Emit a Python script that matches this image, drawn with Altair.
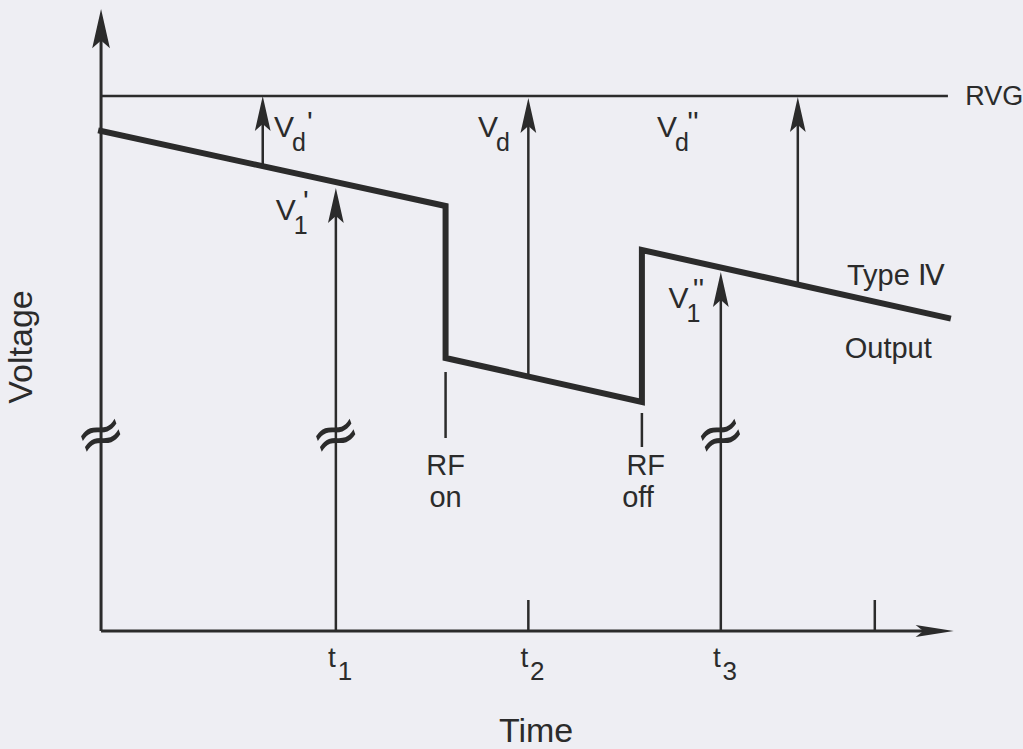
import altair as alt
import pandas as pd

INK = "#2b2b2b"
PAPER = "#eeeef3"
FONT = "Liberation Sans"

# ---- data, in time units across and voltage units up ----
T1, T2, T3 = 12.2, 22.2, 32.2
axis_ticks_t = [22.2, 40.2]          # bare ticks on the time axis
T_AXIS_END = 44.3                    # tip of the time axis arrow
V_AXIS_TOP = 62.2                    # tip of the voltage axis arrow
RVG = 53.5
RVG_END = 44.0

# Type IV output trace
out_t = [0.0, 17.9, 17.9, 28.1, 28.1, 44.0]
out_v = [50.0, 42.5, 27.3, 22.9, 38.1, 31.3]

# vertical arrows: time, foot voltage, tip voltage
arrow_t = [8.4, 12.2, 22.2, 32.2, 36.2]
arrow_from = [46.5, 0.0, 25.45, 0.0, 34.6]
arrow_to = [53.5, 44.3, 53.3, 35.9, 53.4]

# break marks on the long verticals
break_t = [0.0, 12.2, 32.2]
BREAK_V = 19.5

# RF switching markers
rf_t = [17.9, 28.1]
rf_top = [25.9, 21.8]
rf_bottom = [19.3, 18.4]
rf_words = ["RF", "on", "RF", "off"]
rf_words_t = [17.9, 17.9, 28.3, 27.9]
rf_words_v = [15.6, 12.4, 15.6, 12.4]

# voltage labels: main letter, subscript, prime marks
vlab_t = [9.5, 9.6, 20.1, 29.4, 30.0]
vlab_v = [49.4, 41.1, 49.4, 49.4, 32.3]
vlab_sub = ["d", "1", "d", "d", "1"]
vlab_prime = ["'", "'", "", "''", "''"]

# time labels
tlab_t = [T1, T2, T3]
tlab_sub = ["1", "2", "3"]
TLAB_V = -3.6

X_DOMAIN = [-5.25, 47.9]
Y_DOMAIN = [-11.8, 63.1]

xs = alt.Scale(domain=X_DOMAIN, nice=False, zero=False)
ys = alt.Scale(domain=Y_DOMAIN, nice=False, zero=False)


def X(f="x"):
    return alt.X(f"{f}:Q", scale=xs, axis=None)


def Y(f="y"):
    return alt.Y(f"{f}:Q", scale=ys, axis=None)


ARROW = "M0,0 L0.45,2 L0,1.6 L-0.45,2 Z"
NARROW = "M0,0 L0.32,2 L0,1.6 L-0.32,2 Z"

# axes
axes_df = pd.DataFrame({
    "x": [0.0, 0.0], "x2": [0.0, T_AXIS_END - 1.0],
    "y": [0.0, 0.0], "y2": [V_AXIS_TOP - 2.0, 0.0],
})
axes = alt.Chart(axes_df).mark_rule(color=INK, strokeWidth=3).encode(
    x=X(), x2="x2:Q", y=Y(), y2="y2:Q")

y_head = alt.Chart(pd.DataFrame({"x": [0.0], "y": [V_AXIS_TOP]})).mark_point(
    shape=ARROW, filled=True, color=INK, opacity=1, size=1550, strokeWidth=0
).encode(x=X(), y=Y())
x_head = alt.Chart(pd.DataFrame({"x": [T_AXIS_END], "y": [0.0]})).mark_point(
    shape=NARROW, filled=True, color=INK, opacity=1, size=1450, strokeWidth=0
).encode(x=X(), y=Y(), angle=alt.value(90))

ticks = alt.Chart(pd.DataFrame({"x": axis_ticks_t, "y": [0.0] * 2, "y2": [3.1] * 2})
                  ).mark_rule(color=INK, strokeWidth=2.5).encode(x=X(), y=Y(), y2="y2:Q")

# reference level
rvg = alt.Chart(pd.DataFrame({"x": [0.0], "x2": [RVG_END], "y": [RVG]})).mark_rule(
    color=INK, strokeWidth=2.5).encode(x=X(), x2="x2:Q", y=Y())

# output trace
out_df = pd.DataFrame({"x": out_t, "y": out_v, "i": range(len(out_t))})
output = alt.Chart(out_df).mark_line(
    color=INK, strokeWidth=6, strokeJoin="miter", strokeCap="square"
).encode(x=X(), y=Y(), order="i:Q")

# arrows
arr_df = pd.DataFrame({"x": arrow_t, "y": arrow_from, "tip": arrow_to})
arr_df["y2"] = arr_df["tip"] - 1.5
shafts = alt.Chart(arr_df).mark_rule(color=INK, strokeWidth=2.5).encode(
    x=X(), y=Y(), y2="y2:Q")
heads = alt.Chart(arr_df).mark_point(
    shape=ARROW, filled=True, color=INK, opacity=1, size=1225, strokeWidth=0
).encode(x=X(), y=Y("tip"))

# break marks
brk = alt.Chart(pd.DataFrame({"x": break_t, "y": [BREAK_V] * 3, "s": ["≈"] * 3})).mark_text(
    font="DejaVu Sans", fontSize=60, color=INK, angle=340, baseline="middle", align="center"
).encode(x=X(), y=Y(), text="s:N")

# RF markers
rf_df = pd.DataFrame({"x": rf_t, "y": rf_bottom, "y2": rf_top})
rf_lines = alt.Chart(rf_df).mark_rule(color=INK, strokeWidth=2.5).encode(
    x=X(), y=Y(), y2="y2:Q")
rf_text = alt.Chart(pd.DataFrame({"x": rf_words_t, "y": rf_words_v, "s": rf_words})).mark_text(
    font=FONT, fontSize=29, color=INK, align="center", baseline="alphabetic"
).encode(x=X(), y=Y(), text="s:N")

# voltage labels
vl_df = pd.DataFrame({"x": vlab_t, "y": vlab_v, "sub": vlab_sub, "prime": vlab_prime,
                      "main": ["V"] * len(vlab_t)})
v_main = alt.Chart(vl_df).mark_text(
    font=FONT, fontSize=30, color=INK, align="center", baseline="alphabetic"
).encode(x=X(), y=Y(), text="main:N")
v_sub = alt.Chart(vl_df).mark_text(
    font=FONT, fontSize=25, color=INK, align="center", baseline="alphabetic", dx=15, dy=14
).encode(x=X(), y=Y(), text="sub:N")
prime_style = dict(font=FONT, fontSize=30, color=INK, align="center", baseline="alphabetic")
v_prime_d = alt.Chart(vl_df).transform_filter(alt.datum.sub == "d").mark_text(
    dx=26, dy=-5, **prime_style
).encode(x=X(), y=Y(), text="prime:N")
v_prime_1 = alt.Chart(vl_df).transform_filter(alt.datum.sub == "1").mark_text(
    dx=20, dy=-9, **prime_style
).encode(x=X(), y=Y(), text="prime:N")

# time labels
tl_df = pd.DataFrame({"x": tlab_t, "y": [TLAB_V] * 3, "sub": tlab_sub, "main": ["t"] * 3})
t_main = alt.Chart(tl_df).mark_text(
    font=FONT, fontSize=28, color=INK, align="center", baseline="alphabetic", dx=-4
).encode(x=X(), y=Y(), text="main:N")
t_sub = alt.Chart(tl_df).mark_text(
    font=FONT, fontSize=26, color=INK, align="center", baseline="alphabetic", dx=9, dy=13
).encode(x=X(), y=Y(), text="sub:N")

# named traces and axis titles
names_df = pd.DataFrame({
    "x": [44.9, 41.3, 40.9, 22.6],
    "y": [53.4, 34.6, 27.3, -11.1],
    "s": ["RVG", "Type Ⅳ", "Output", "Time"],
})
names_left = alt.Chart(names_df.iloc[[0]]).mark_text(
    font=FONT, fontSize=27, color=INK, align="left", baseline="middle"
).encode(x=X(), y=Y(), text="s:N")
names_mid = alt.Chart(names_df.iloc[[1, 2]]).mark_text(
    font=FONT, fontSize=29, color=INK, align="center", baseline="alphabetic"
).encode(x=X(), y=Y(), text="s:N")
time_title = alt.Chart(names_df.iloc[[3]]).mark_text(
    font=FONT, fontSize=34, color=INK, align="center", baseline="alphabetic"
).encode(x=X(), y=Y(), text="s:N")
volt_title = alt.Chart(pd.DataFrame({"x": [-4.1], "y": [28.4], "s": ["Voltage"]})).mark_text(
    font=FONT, fontSize=34, color=INK, align="center", baseline="middle", angle=270
).encode(x=X(), y=Y(), text="s:N")

chart = alt.layer(
    axes, ticks, rvg, shafts, rf_lines, output, heads, y_head, x_head, brk,
    rf_text, v_main, v_sub, v_prime_d, v_prime_1, t_main, t_sub,
    names_left, names_mid, time_title, volt_title,
).properties(
    width=1023, height=749, padding=0, autosize=alt.AutoSizeParams(type="none"),
    background=PAPER,
).configure_view(stroke=None)

chart.save("out.html", embed_options={"renderer": "svg", "actions": False})
